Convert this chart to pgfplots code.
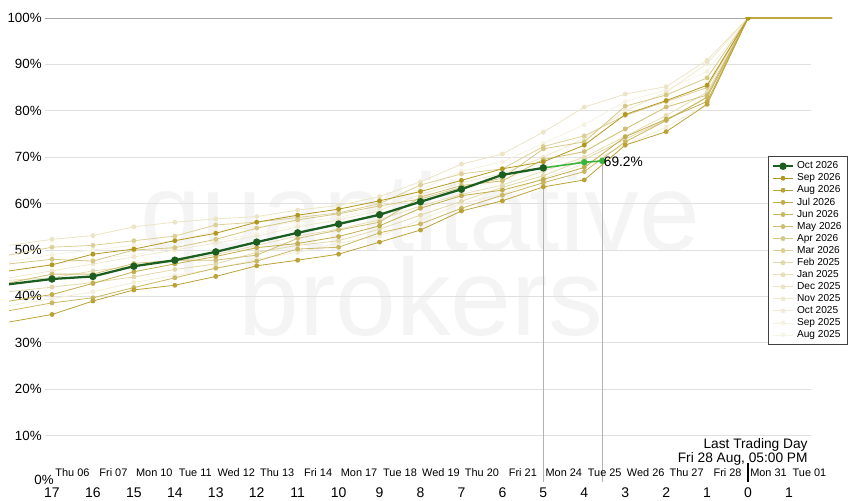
\documentclass[border=0pt]{standalone}
\usepackage{fontspec}
\setmainfont{Liberation Sans}
\usepackage{pgfplots}
\usepackage{pgfplotstable}
\pgfplotsset{compat=1.18}

\definecolor{olv}{RGB}{178,152,30}
\definecolor{dkgreen}{RGB}{27,94,32}
\definecolor{ltgreen}{RGB}{60,180,60}
\definecolor{wmark}{RGB}{244,244,244}

% share of volume done vs. trading days to expiry (negative = before)
\pgfplotstableread{
t   sep26 aug26 jul26 jun26 may26 apr26 mar26 feb25 jan25 dec25 nov25 oct25 sep25 aug25
-19 44.3  33.0  37.7  35.4  41.2  46.1  47.4  40.1  43.0  49.8  42.6  36.6  46.1  44.1
-17 46.8  36.1  40.4  38.6  44.8  48.0  50.6  42.0  44.0  52.3  45.5  39.5  49.0  47.0
-16 49.1  39.0  42.8  39.7  44.8  47.6  51.0  43.0  45.5  53.1  47.0  41.0  50.0  48.0
-15 50.2  41.4  45.3  41.9  47.1  50.0  52.0  44.2  46.5  55.0  48.5  43.0  51.0  49.0
-14 52.0  42.4  47.0  44.0  47.8  50.5  53.0  45.8  47.5  56.0  50.0  44.5  52.0  50.5
-13 53.6  44.3  48.6  46.1  47.8  52.3  55.4  47.0  49.0  56.7  51.5  46.0  54.0  52.0
-12 56.0  46.6  50.5  47.6  48.9  54.7  56.0  49.5  51.0  57.2  53.0  48.0  55.0  53.5
-11 57.5  47.8  51.4  50.2  52.5  56.5  57.0  51.0  53.0  58.6  55.0  49.5  56.0  55.5
-10 58.8  49.1  52.9  50.6  54.3  57.8  58.0  52.0  54.5  59.6  56.5  51.5  57.0  56.0
-9  60.6  51.7  55.2  53.7  56.0  59.5  60.0  54.5  56.5  61.5  58.5  53.0  59.0  57.5
-8  62.6  54.3  59.0  55.6  61.4  61.0  64.0  57.5  59.5  64.7  62.0  56.5  63.0  60.5
-7  65.0  58.4  61.7  59.0  63.9  63.5  66.4  60.5  62.0  68.5  64.5  60.0  67.0  63.0
-6  67.5  60.6  62.9  61.8  64.9  65.5  67.5  63.5  64.0  70.7  66.5  62.0  69.0  65.0
-5  69.0  63.6  65.2  64.5  69.5  71.8  72.3  66.0  67.0  75.4  70.0  65.5  73.0  68.0
-4  72.6  65.1  67.8  66.9  71.2  73.3  74.6  69.5  70.0  80.8  74.0  68.5  77.0  71.5
-3  79.2  72.6  74.4  73.3  76.1  81.0  79.0  73.9  74.5  83.6  80.0  72.6  82.0  76.0
-2  82.2  75.5  78.2  77.9  80.8  83.4  82.0  78.0  79.0  85.2  84.0  76.5  84.5  81.0
-1  85.5  81.4  82.0  82.9  83.4  87.1  85.0  83.0  84.0  90.9  90.2  81.5  88.5  86.0
0   100   100   100   100   100   100   100   100   100   100   100   100   100   100
3   100   100   100   100   100   100   100   100   100   100   100   100   100   100
}\curves

\pgfplotsset{
  olvline/.style={color=olv!#1!white, line width=0.6pt, mark=*, mark size=1.5pt},
}
\tikzset{
  dayname/.style={anchor=base, font=\fontsize{8.2}{10}\selectfont, inner sep=0pt},
}

\begin{document}
\begin{tikzpicture}
\begin{axis}[
  at={(6.75pt,13.5pt)}, anchor=south west,
  scale only axis, width=617.25pt, height=348pt,
  xmin=-18.05, xmax=2.05, ymin=0, ymax=100,
  clip marker paths=true,
  axis line style={draw=none}, tick style={draw=none},
  xtick={-17,...,1},
  xticklabels={17,16,15,14,13,12,11,10,9,8,7,6,5,4,3,2,1,0,1},
  xticklabel style={font=\fontsize{10.5}{12}\selectfont, yshift=-1pt},
  ytick={10,20,...,100},
  yticklabel={\pgfmathprintnumber{\tick}\%},
  yticklabel style={anchor=east, xshift=28pt, font=\fontsize{10}{12}\selectfont},
  /pgf/number format/assume math mode=true,
  reverse legend,
  legend cell align=left,
  legend image code/.code={\draw[mark repeat=2,mark phase=2] plot coordinates {(0cm,0cm) (0.27cm,0cm) (0.54cm,0cm)};},
  legend style={at={(1.0194,0.7026)}, anchor=north east, draw=black!75, line width=0.6pt,
    fill=white, font=\fontsize{7.6}{8}\selectfont, row sep=-1.8pt,
    inner xsep=2.5pt, inner ysep=2pt},
]
% watermark
\node[anchor=base, text=wmark, font=\fontsize{82}{82}\selectfont] at (axis cs:-8,49.8) {quantitative};
\node[anchor=base, text=wmark, font=\fontsize{82}{82}\selectfont] at (axis cs:-8,31.6) {brokers};
% grid
\pgfplotsinvokeforeach{10,20,...,90}{
  \draw[black!12, line width=0.6pt] (axis cs:-17.17,#1) -- (axis cs:1.54,#1);
}
\draw[black!35, line width=0.7pt] (axis cs:-17.17,100) -- (axis cs:1.54,100);
\draw[black!35, line width=0.7pt] (axis cs:-17.17,0) -- (axis cs:1.54,0);
\draw[black!30, line width=0.6pt] (axis cs:-5,0) -- (axis cs:-5,67.7);
\draw[black!30, line width=0.6pt] (axis cs:-3.56,0) -- (axis cs:-3.56,69.2);
\draw[black, line width=1.5pt] (axis cs:0,0) -- (axis cs:0,4.1);
% day names
\node[dayname] at (axis cs:-16.5,1.15) {Thu 06};
\node[dayname] at (axis cs:-15.5,1.15) {Fri 07};
\node[dayname] at (axis cs:-14.5,1.15) {Mon 10};
\node[dayname] at (axis cs:-13.5,1.15) {Tue 11};
\node[dayname] at (axis cs:-12.5,1.15) {Wed 12};
\node[dayname] at (axis cs:-11.5,1.15) {Thu 13};
\node[dayname] at (axis cs:-10.5,1.15) {Fri 14};
\node[dayname] at (axis cs:-9.5,1.15) {Mon 17};
\node[dayname] at (axis cs:-8.5,1.15) {Tue 18};
\node[dayname] at (axis cs:-7.5,1.15) {Wed 19};
\node[dayname] at (axis cs:-6.5,1.15) {Thu 20};
\node[dayname] at (axis cs:-5.5,1.15) {Fri 21};
\node[dayname] at (axis cs:-4.5,1.15) {Mon 24};
\node[dayname] at (axis cs:-3.5,1.15) {Tue 25};
\node[dayname] at (axis cs:-2.5,1.15) {Wed 26};
\node[dayname] at (axis cs:-1.5,1.15) {Thu 27};
\node[dayname] at (axis cs:-0.5,1.15) {Fri 28};
\node[dayname] at (axis cs:0.5,1.15) {Mon 31};
\node[dayname] at (axis cs:1.5,1.15) {Tue 01};
\node[anchor=base east, font=\fontsize{10.3}{12}\selectfont, inner sep=0pt] at (axis cs:1.46,7.3) {Last Trading Day};
\node[anchor=base east, font=\fontsize{10.3}{12}\selectfont, inner sep=0pt] at (axis cs:1.46,4.3) {Fri 28 Aug, 05:00 PM};

\addplot[olvline=10] table[x=t,y=aug25]{\curves}; \addlegendentry{Aug 2025}
\addplot[olvline=13] table[x=t,y=sep25]{\curves}; \addlegendentry{Sep 2025}
\addplot[olvline=17] table[x=t,y=oct25]{\curves}; \addlegendentry{Oct 2025}
\addplot[olvline=21] table[x=t,y=nov25]{\curves}; \addlegendentry{Nov 2025}
\addplot[olvline=26] table[x=t,y=dec25]{\curves}; \addlegendentry{Dec 2025}
\addplot[olvline=32] table[x=t,y=jan25]{\curves}; \addlegendentry{Jan 2025}
\addplot[olvline=38] table[x=t,y=feb25]{\curves}; \addlegendentry{Feb 2025}
\addplot[olvline=46] table[x=t,y=mar26]{\curves}; \addlegendentry{Mar 2026}
\addplot[olvline=54] table[x=t,y=apr26]{\curves}; \addlegendentry{Apr 2026}
\addplot[olvline=62] table[x=t,y=may26]{\curves}; \addlegendentry{May 2026}
\addplot[olvline=70] table[x=t,y=jun26]{\curves}; \addlegendentry{Jun 2026}
\addplot[olvline=80] table[x=t,y=jul26]{\curves}; \addlegendentry{Jul 2026}
\addplot[olvline=90] table[x=t,y=aug26]{\curves}; \addlegendentry{Aug 2026}
\addplot[olvline=100] table[x=t,y=sep26]{\curves}; \addlegendentry{Sep 2026}

\addplot[ltgreen, line width=1.2pt, mark=*, mark size=1.8pt, forget plot]
  coordinates {(-5,67.7) (-4,68.9) (-3.56,69.2)};
\node[anchor=west, font=\fontsize{10.3}{12}\selectfont, inner sep=1pt] at (axis cs:-3.56,69.0) {69.2\%};

\addplot[dkgreen, line width=1.7pt, mark=*, mark size=1.9pt] coordinates {
  (-19,41.6) (-17,43.75) (-16,44.3) (-15,46.5) (-14,47.8) (-13,49.6) (-12,51.7)
  (-11,53.7) (-10,55.6) (-9,57.6) (-8,60.4) (-7,63.1) (-6,66.2) (-5,67.7)};
\addlegendentry{Oct 2026}
\end{axis}
\node[anchor=east, font=\fontsize{10}{12}\selectfont, inner sep=0pt] at (40.5pt,15pt) {0\%};
\pgfresetboundingbox
\path[use as bounding box] (0,0) rectangle (637.5pt,375pt);
\end{tikzpicture}
\end{document}
